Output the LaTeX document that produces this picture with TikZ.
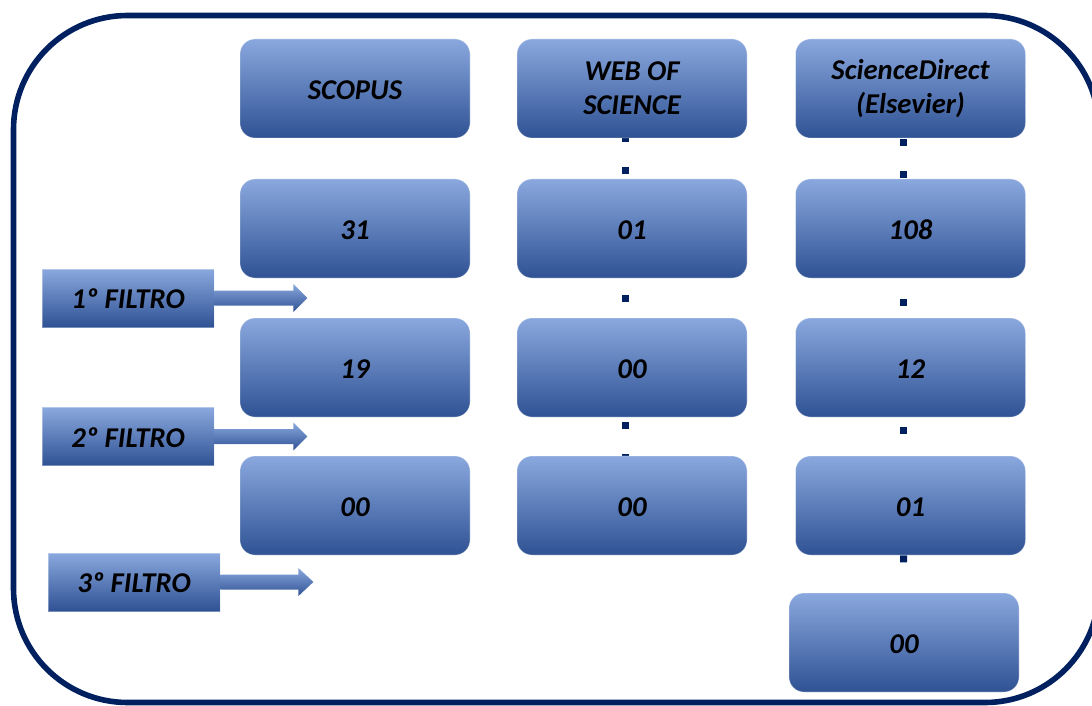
\documentclass[tikz,border=0pt]{standalone}
\usepackage{fontspec}
\setmainfont{Carlito}
\usetikzlibrary{backgrounds}
\definecolor{navy}{HTML}{002060}
\definecolor{gtop}{HTML}{8AA8DE}
\definecolor{gmid}{HTML}{4472C4}
\definecolor{gbot}{HTML}{2F5294}
\newcommand\dbfont{\fontsize{21.5}{25.5}\selectfont\bfseries\itshape}
\tikzset{
  shadefill/.style={top color=gtop, middle color=gmid, bottom color=gbot},
  dbbox/.style={shadefill, rectangle, rounded corners=11.25pt,
    minimum width=172.5pt, minimum height=74.25pt, inner sep=0pt,
    draw=white, draw opacity=0.35, line width=0.6pt,
    align=center, font=\dbfont, text=black,
    execute at begin node={\rule{0pt}{16.4pt}}},
  filterbox/.style={shadefill, rectangle, minimum width=129pt,
    minimum height=43.5pt, inner sep=0pt,
    draw=white, draw opacity=0.35, line width=0.6pt,
    font=\dbfont, text=black,
    execute at begin node={\rule{0pt}{16.4pt}}},
  dotline/.style={draw=navy, line width=5.25pt,
    dash pattern=on 5.25pt off 18.75pt},
  border/.style={draw=navy, line width=4.2pt, rounded corners=85.5pt}
}
\begin{document}
\begin{tikzpicture}[x=0.75pt,y=-0.75pt]
\useasboundingbox (0,0) rectangle (1092,706);
\clip (0,0) rectangle (1092,706);

% database boxes
\node[dbbox] (s0) at (355,88.5)  {SCOPUS};
\node[dbbox] (s1) at (355,228.5) {31};
\node[dbbox] (s2) at (355,367.5) {19};
\node[dbbox] (s3) at (355,505.5) {00};

\node[dbbox] (w0) at (632,88.5)  {WEB OF\\SCIENCE};
\node[dbbox] (w1) at (632,228.5) {01};
\node[dbbox] (w2) at (632,367.5) {00};
\node[dbbox] (w3) at (632,505.5) {00};

\node[dbbox] (c0) at (910.5,88.5)  {ScienceDirect\\(Elsevier)};
\node[dbbox] (c1) at (910.5,228.5) {108};
\node[dbbox] (c2) at (910.5,367.5) {12};
\node[dbbox] (c3) at (910.5,505.5) {01};
\node[dbbox] (c4) at (904,642.5)   {00};

% filter labels
\node[filterbox] (f1) at (128,298)   {1º FILTRO};
\node[filterbox] (f2) at (128,436.5) {2º FILTRO};
\node[filterbox] (f3) at (134,582)   {3º FILTRO};

% block arrows
\shade[shadefill] (f1.east) ++(0,7.5) -- ++(79,0) -- ++(0,6.5) -- ++(14,-14)
  -- ++(-14,-14) -- ++(0,6.5) -- ++(-79,0) -- cycle;
\shade[shadefill] (f2.east) ++(0,7.5) -- ++(79,0) -- ++(0,6.5) -- ++(14,-14)
  -- ++(-14,-14) -- ++(0,6.5) -- ++(-79,0) -- cycle;
\shade[shadefill] (f3.east) ++(0,7.5) -- ++(78,0) -- ++(0,6.5) -- ++(15,-14)
  -- ++(-15,-14) -- ++(0,6.5) -- ++(-78,0) -- cycle;

\begin{pgfonlayer}{background}
  \draw[border] (13.5,15.5) rectangle (1099,702.5);
  % dotted connectors
  \draw[dotline, dash phase=2.25pt]  ([xshift=-5.25pt]w0.south) -- ([xshift=-5.25pt]w1.north);
  \draw[dotline, dash phase=11.25pt] ([xshift=-5.25pt]w1.south) -- ([xshift=-5.25pt]w2.north);
  \draw[dotline, dash phase=20.25pt] ([xshift=-5.25pt]w2.south) -- ([xshift=-5.25pt]w3.north);
  \draw[dotline, dash phase=23.25pt] ([xshift=-5.25pt]c0.south) -- ([xshift=-5.25pt]c1.north);
  \draw[dotline, dash phase=8.25pt]  ([xshift=-5.25pt]c1.south) -- ([xshift=-5.25pt]c2.north);
  \draw[dotline, dash phase=16.5pt]  ([xshift=-5.25pt]c2.south) -- ([xshift=-5.25pt]c3.north);
  \draw[dotline, shorten >=6pt]      ([xshift=-5.25pt]c3.south) -- (c4.north);
\end{pgfonlayer}
\end{tikzpicture}
\end{document}
